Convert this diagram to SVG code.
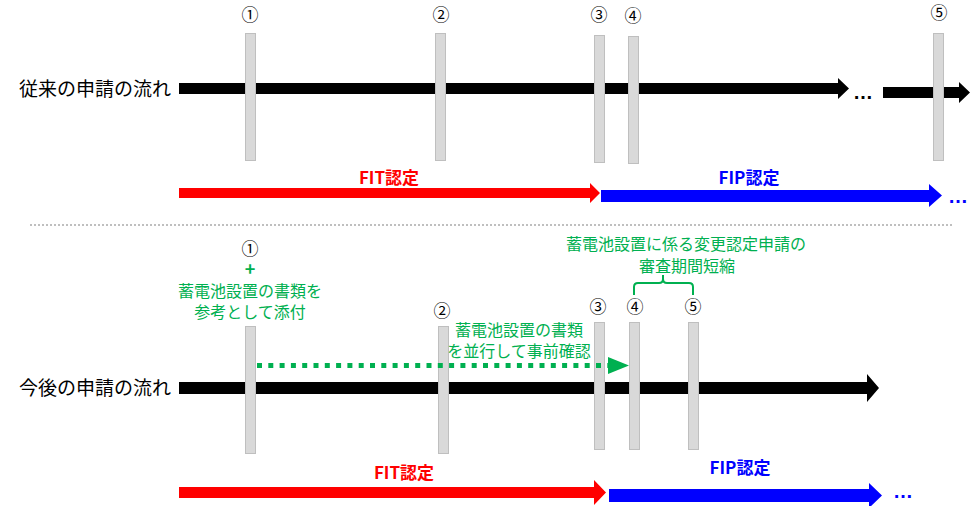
<svg xmlns="http://www.w3.org/2000/svg" width="974" height="506" viewBox="0 0 974 506">
<style>
.lbl{font-family:"Noto Sans CJK JP","Noto Sans",sans-serif;font-size:19px;fill:#000;text-anchor:end}
.num{font-family:"Noto Sans CJK JP","DejaVu Sans",sans-serif;font-size:17px;fill:#000;text-anchor:middle}
.bar{fill:#D9D9D9;stroke:#BFBFBF;stroke-width:1}
.grn{font-family:"Noto Sans CJK JP","Noto Sans",sans-serif;font-size:16px;fill:#00B050;text-anchor:middle}
.cert{font-family:"Noto Sans CJK JP","Noto Sans",sans-serif;font-size:17px;font-weight:bold;text-anchor:middle}
.dots{font-family:"Liberation Sans",sans-serif;font-size:20px;font-weight:bold;letter-spacing:1px;text-anchor:start}
</style>
<rect width="974" height="506" fill="#fff"/>
<g id="connectors">
  <polygon points="179,83 838,83 838,78 849,88.5 838,99 838,94 179,94" fill="#000"/>
  <polygon points="883,87 959,87 959,82 970,92.5 959,103 959,98 883,98" fill="#000"/>
  <polygon points="179,188 590,188 590,183 600,193 590,203 590,198 179,198" fill="#FF0000"/>
  <polygon points="601,190 929,190 929,184 942,195.5 929,207 929,202 601,202" fill="#0000FF"/>
  <line x1="30" y1="225" x2="952" y2="225" stroke="#BFBFBF" stroke-width="2" stroke-dasharray="2 2"/>
  <polygon points="179,382 867,382 867,374 879,388 867,402 867,394 179,394" fill="#000"/>
  <polygon points="179,487 594,487 594,480 606,492.5 594,505 594,498 179,498" fill="#FF0000"/>
  <polygon points="609,489 869,489 869,483 882,495.5 869,508 869,502 609,502" fill="#0000FF"/>
</g>
<g id="top-label"><text class="lbl" x="171" y="96">従来の申請の流れ</text></g>
<g id="top-step1"><rect class="bar" x="245.5" y="33.5" width="10" height="127"/><text class="num" x="250" y="21">①</text></g>
<g id="top-step2"><rect class="bar" x="435.5" y="33.5" width="10" height="127"/><text class="num" x="441" y="21">②</text></g>
<g id="top-step3"><rect class="bar" x="594.5" y="35.5" width="10" height="127"/><text class="num" x="599" y="21">③</text></g>
<g id="top-step4"><rect class="bar" x="628.5" y="36.5" width="10" height="127"/><text class="num" x="633" y="22">④</text></g>
<g id="top-step5"><rect class="bar" x="933.5" y="33.5" width="10" height="127"/><text class="num" x="939" y="19">⑤</text></g>
<g id="top-dots"><text class="dots" x="853" y="99" fill="#000">…</text><text class="dots" x="948" y="203" fill="#0000FF">…</text></g>
<g id="top-fit"><text class="cert" x="389" y="184" fill="#FF0000">FIT認定</text></g>
<g id="top-fip"><text class="cert" x="749" y="184" fill="#0000FF">FIP認定</text></g>

<g id="bottom-label"><text class="lbl" x="171" y="395">今後の申請の流れ</text></g>
<g id="bottom-step1"><rect class="bar" x="245.5" y="326.5" width="10" height="127"/><text class="num" x="250" y="255">①</text>
  <text class="grn" x="250" y="276" style="font-size:18px;font-weight:bold">+</text>
  <text class="grn" x="250" y="297">蓄電池設置の書類を</text>
  <text class="grn" x="250" y="318">参考として添付</text></g>
<g id="bottom-step2"><rect class="bar" x="438.5" y="326.5" width="10" height="127"/><text class="num" x="442" y="317">②</text></g>
<g id="bottom-step3"><rect class="bar" x="594.5" y="322.5" width="10" height="127"/><text class="num" x="598" y="313">③</text></g>
<g id="bottom-step4"><rect class="bar" x="629.5" y="322.5" width="10" height="127"/><text class="num" x="635" y="313">④</text></g>
<g id="bottom-step5"><rect class="bar" x="688.5" y="322.5" width="10" height="127"/><text class="num" x="693" y="313">⑤</text></g>
<g id="precheck">
  <line x1="257" y1="365.5" x2="608" y2="365.5" stroke="#00B050" stroke-width="5" stroke-dasharray="5 6.3"/>
  <polygon points="608,357 629,365.5 608,374" fill="#00B050"/>
  <text class="grn" x="519" y="336">蓄電池設置の書類</text>
  <text class="grn" x="519" y="357">を並行して事前確認</text>
</g>
<g id="shorten">
  <text class="grn" x="686" y="250">蓄電池設置に係る変更認定申請の</text>
  <text class="grn" x="687" y="272">審査期間短縮</text>
  <path d="M634,295 L634,287 Q634,283 638,283 L659,283 Q663,283 663,279 L663,275 M663,279 Q663,283 667,283 L689,283 Q693,283 693,287 L693,295" fill="none" stroke="#00B050" stroke-width="2"/>
</g>
<g id="bottom-dots"><text class="dots" x="893" y="498" fill="#0000FF">…</text></g>
<g id="bottom-fit"><text class="cert" x="404" y="479" fill="#FF0000">FIT認定</text></g>
<g id="bottom-fip"><text class="cert" x="740" y="474" fill="#0000FF">FIP認定</text></g>
</svg>
